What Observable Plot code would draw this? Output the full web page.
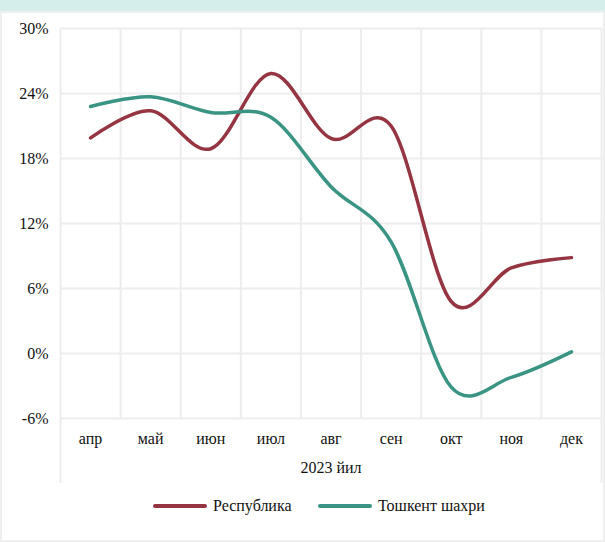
<!DOCTYPE html>
<html>
<head>
<meta charset="utf-8">
<script src="https://cdn.jsdelivr.net/npm/d3@7"></script>
<script src="https://cdn.jsdelivr.net/npm/@observablehq/plot@0.6"></script>
<style>
  html, body { margin: 0; padding: 0; background: #fff; }
  #wrap { position: relative; width: 605px; height: 542px; overflow: hidden; font-family: "Liberation Serif", "Times New Roman", "DejaVu Serif", serif; }
  #band { position: absolute; left: 0; top: 0; width: 605px; height: 11px; background: #d6eeeb; }
  #frame { position: absolute; left: 0; top: 11px; width: 601px; height: 527px; border: 2px solid #efefef; box-sizing: content-box; }
  #chart { position: absolute; left: 0; top: 0; }
  #legend { position: absolute; left: 0; top: 497px; width: 605px; font-size: 16px; color: #111; }
  .item { position: absolute; top: 0; white-space: nowrap; }
  .sw { display: inline-block; width: 54px; height: 4px; border-radius: 2px; vertical-align: middle; margin-right: 6px; position: relative; top: -1px; }
</style>
</head>
<body>
<div id="wrap">
  <div id="band"></div>
  <div id="frame"></div>
  <div id="chart"></div>
  <div id="legend"></div>
</div>
<script>
const months = ["апр", "май", "июн", "июл", "авг", "сен", "окт", "ноя", "дек"];
const respublika = [19.9, 22.4, 18.9, 25.85, 19.85, 21.0, 4.8, 7.9, 8.85];
const toshkent = [22.8, 23.7, 22.25, 21.8, 15.4, 10.3, -3.1, -2.2, 0.15];
const yTicks = [-6, 0, 6, 12, 18, 24, 30];
const seriesNames = ["Республика", "Тошкент шахри"];
const seriesColors = ["#953541", "#399483"];
const axisTitle = "2023 йил";
const boxBottom = -12;

const rows = [];
months.forEach((m, i) => {
  rows.push({series: seriesNames[0], x: i + 0.5, value: respublika[i]});
  rows.push({series: seriesNames[1], x: i + 0.5, value: toshkent[i]});
});
const bounds = d3.range(months.length + 1);
const centers = months.map((m, i) => i + 0.5);

const plot = Plot.plot({
  width: 605,
  height: 542,
  marginTop: 28,
  marginBottom: 124,
  marginLeft: 60,
  marginRight: 4,
  style: {fontFamily: "'Liberation Serif', 'Times New Roman', 'DejaVu Serif', serif", fontSize: "16px", color: "#111", background: "transparent"},
  x: {domain: [0, months.length], axis: null},
  y: {domain: [-6, 30], axis: null},
  color: {domain: seriesNames, range: seriesColors},
  marks: [
    Plot.ruleY(yTicks, {stroke: "#ededed", strokeWidth: 2}),
    Plot.ruleX(bounds, {y1: -6, y2: 30, stroke: "#ededed", strokeWidth: 2}),
    Plot.ruleX([0, months.length], {y1: -6, y2: boxBottom, stroke: "#ededed", strokeWidth: 2}),
    Plot.text(yTicks, {x: 0, y: d => d, text: d => d + "%", textAnchor: "end", dx: -12, fill: "#111", fontFamily: "Liberation Serif", fontSize: 16}),
    Plot.text(centers, {x: d => d, y: -6, text: (d, i) => months[i], dy: 20, fill: "#111", fontFamily: "Liberation Serif", fontSize: 16}),
    Plot.text([axisTitle], {x: months.length / 2, y: -6, text: d => d, dy: 49, fill: "#111", fontFamily: "Liberation Serif", fontSize: 16}),
    Plot.line(rows, {x: "x", y: "value", z: "series", stroke: "series", strokeWidth: 3.5, curve: "cardinal", tension: 0})
  ]
});
document.getElementById("chart").appendChild(plot);

const legend = document.getElementById("legend");
const lefts = [153, 318];
seriesNames.forEach((name, i) => {
  const it = document.createElement("div");
  it.className = "item";
  it.style.left = lefts[i] + "px";
  it.innerHTML = `<span class="sw" style="background:${seriesColors[i]}"></span>${name}`;
  legend.appendChild(it);
});
</script>
</body>
</html>
